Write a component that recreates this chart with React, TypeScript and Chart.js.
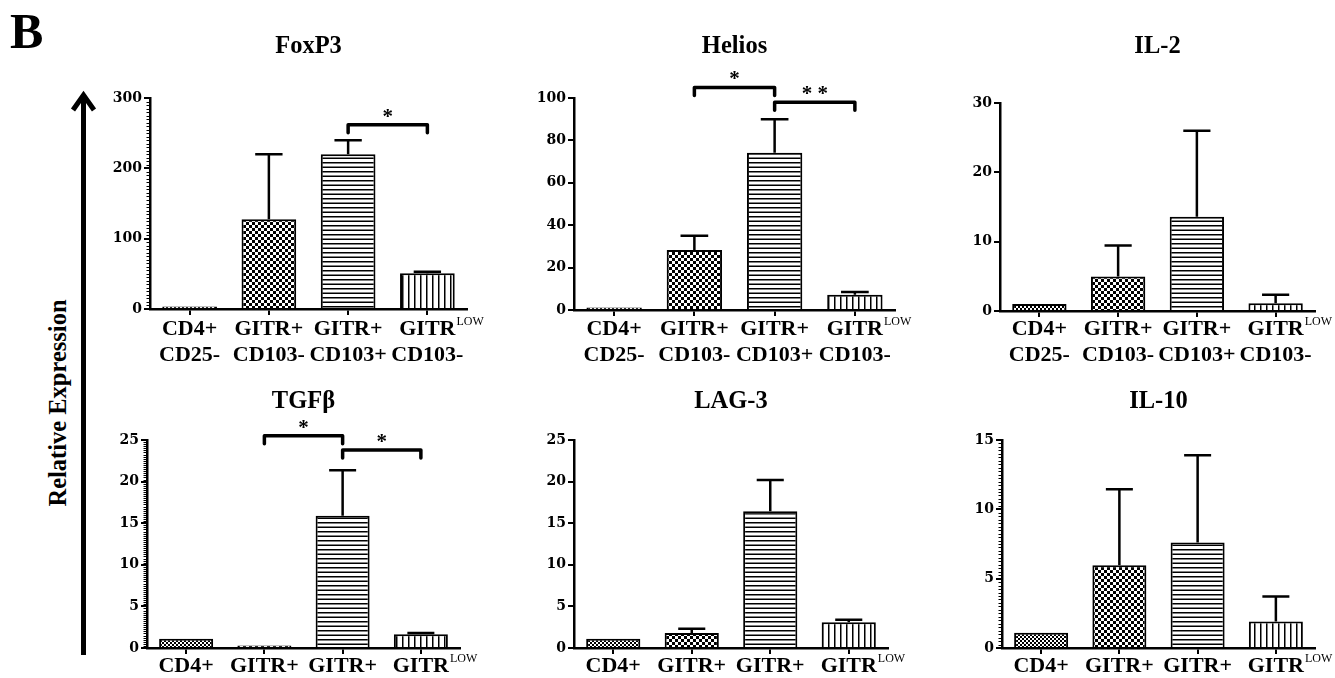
import React, { useEffect, useRef } from 'react';
import { Chart, registerables } from 'chart.js';

Chart.register(...registerables);

// ---------- data ----------
const CATEGORY_LINE1 = ['CD4+', 'GITR+', 'GITR+', 'GITR'];
const CATEGORY_SUP = ['', '', '', 'LOW'];
const CATEGORY_LINE2 = ['CD25-', 'CD103-', 'CD103+', 'CD103-'];
const BAR_PATTERNS = ['fine', 'checker', 'hlines', 'vlines'];

const FOXP3_MEAN = [1, 127.5, 220, 50.7];
const FOXP3_SEM = [0, 92.5, 20, 2.3];
const FOXP3_BRACKETS = [{ from: 2, to: 3, value: 262, label: '*' }];

const HELIOS_MEAN = [1, 28.3, 74.2, 7.2];
const HELIOS_SEM = [0, 6.7, 15.8, 1.3];
const HELIOS_BRACKETS = [
  { from: 1, to: 2, value: 105, label: '*' },
  { from: 2, to: 3, value: 98, label: '* *' },
];

const IL2_MEAN = [1, 4.96, 13.6, 1.1];
const IL2_SEM = [0, 4.5, 12.4, 1.25];

const TGFB_MEAN = [1.1, 0.15, 15.9, 1.65];
const TGFB_SEM = [0, 0, 5.45, 0.15];
const TGFB_BRACKETS = [
  { from: 1, to: 2, value: 25.5, label: '*' },
  { from: 2, to: 3, value: 23.8, label: '*' },
];

const LAG3_MEAN = [1.1, 1.8, 16.45, 3.1];
const LAG3_SEM = [0, 0.5, 3.75, 0.3];

const IL10_MEAN = [1.1, 5.97, 7.6, 1.92];
const IL10_SEM = [0, 5.48, 6.3, 1.79];

// y-axis ranges: [max, step, minorStep]
const FOXP3_AXIS = [300, 100, 5];
const HELIOS_AXIS = [100, 20, 0];
const IL2_AXIS = [30, 10, 0];
const TGFB_AXIS = [25, 5, 0.25];
const LAG3_AXIS = [25, 5, 0];
const IL10_AXIS = [15, 5, 0.25];

// ---------- layout (pixel positions of each plot area) ----------
const W = 1335;
const H = 678;
const Y_AXIS_W = 50;
const X_AXIS_H = 8;
const PANEL_BOXES = [
  { left: 150, right: 467, top: 98, bottom: 309, titleY: 53, labelY: 335 },
  { left: 574, right: 895, top: 98, bottom: 310, titleY: 53, labelY: 335 },
  { left: 1000, right: 1315, top: 103, bottom: 311, titleY: 53, labelY: 335 },
  { left: 147, right: 460, top: 440, bottom: 648, titleY: 408, labelY: 672 },
  { left: 574, right: 888, top: 440, bottom: 648, titleY: 408, labelY: 672 },
  { left: 1002, right: 1315, top: 440, bottom: 648, titleY: 408, labelY: 672 },
];

type Bracket = { from: number; to: number; value: number; label: string };
type Panel = {
  title: string;
  mean: number[];
  sem: number[];
  axis: number[];
  brackets: Bracket[];
  twoLine: boolean;
  box: (typeof PANEL_BOXES)[number];
};

const PANELS: Panel[] = [
  { title: 'FoxP3', mean: FOXP3_MEAN, sem: FOXP3_SEM, axis: FOXP3_AXIS, brackets: FOXP3_BRACKETS, twoLine: true, box: PANEL_BOXES[0] },
  { title: 'Helios', mean: HELIOS_MEAN, sem: HELIOS_SEM, axis: HELIOS_AXIS, brackets: HELIOS_BRACKETS, twoLine: true, box: PANEL_BOXES[1] },
  { title: 'IL-2', mean: IL2_MEAN, sem: IL2_SEM, axis: IL2_AXIS, brackets: [], twoLine: true, box: PANEL_BOXES[2] },
  { title: 'TGFβ', mean: TGFB_MEAN, sem: TGFB_SEM, axis: TGFB_AXIS, brackets: TGFB_BRACKETS, twoLine: false, box: PANEL_BOXES[3] },
  { title: 'LAG-3', mean: LAG3_MEAN, sem: LAG3_SEM, axis: LAG3_AXIS, brackets: [], twoLine: false, box: PANEL_BOXES[4] },
  { title: 'IL-10', mean: IL10_MEAN, sem: IL10_SEM, axis: IL10_AXIS, brackets: [], twoLine: false, box: PANEL_BOXES[5] },
];

const SERIF = '"Liberation Serif", "Times New Roman", serif';

function makePattern(kind: string): CanvasPattern | string {
  const c = document.createElement('canvas');
  if (kind === 'fine') { c.width = 4; c.height = 4; }
  else if (kind === 'checker') { c.width = 6; c.height = 6; }
  else if (kind === 'hlines') { c.width = 4; c.height = 9; }
  else { c.width = 6; c.height = 4; }
  const g = c.getContext('2d');
  if (!g) return '#fff';
  g.fillStyle = '#fff';
  g.fillRect(0, 0, c.width, c.height);
  g.fillStyle = '#000';
  if (kind === 'fine') {
    g.fillRect(0, 0, 2, 2);
    g.fillRect(2, 2, 2, 2);
  } else if (kind === 'checker') {
    g.fillRect(0, 0, 3, 3);
    g.fillRect(3, 3, 3, 3);
  } else if (kind === 'hlines') {
    g.fillRect(0, 0, 4, 1.5);
    g.fillRect(0, 4.5, 4, 1.5);
  } else {
    g.fillRect(0, 0, 1.5, 4);
  }
  return g.createPattern(c, 'repeat') || '#fff';
}

function decorPlugin(p: Panel) {
  return {
    id: 'decor',
    afterDraw(chart: any) {
      const ctx: CanvasRenderingContext2D = chart.ctx;
      const xs = chart.scales.x;
      const ys = chart.scales.y;
      const [max, , minor] = p.axis;
      ctx.save();
      ctx.strokeStyle = '#000';
      ctx.fillStyle = '#000';

      // minor ticks
      if (minor) {
        ctx.lineWidth = 1;
        const n = Math.round(max / minor);
        for (let k = 0; k <= n; k++) {
          const py = Math.round(ys.getPixelForValue(k * minor)) + 0.5;
          ctx.beginPath();
          ctx.moveTo(chart.chartArea.left - 3.5, py);
          ctx.lineTo(chart.chartArea.left, py);
          ctx.stroke();
        }
      }

      // error bars (upper only)
      const meta = chart.getDatasetMeta(0);
      ctx.lineWidth = 2.5;
      meta.data.forEach((bar: any, i: number) => {
        const s = p.sem[i];
        if (!s) return;
        const yTop = ys.getPixelForValue(p.mean[i] + s);
        const yBase = ys.getPixelForValue(p.mean[i]);
        const half = bar.width * 0.25;
        ctx.beginPath();
        ctx.moveTo(bar.x, yBase);
        ctx.lineTo(bar.x, yTop);
        ctx.moveTo(bar.x - half, yTop);
        ctx.lineTo(bar.x + half, yTop);
        ctx.stroke();
      });

      // significance brackets
      ctx.lineWidth = 3.5;
      ctx.lineJoin = 'round';
      ctx.lineCap = 'round';
      p.brackets.forEach((b) => {
        const x1 = xs.getPixelForValue(b.from);
        const x2 = xs.getPixelForValue(b.to);
        const yb = ys.getPixelForValue(b.value);
        ctx.beginPath();
        ctx.moveTo(x1, yb + 8);
        ctx.lineTo(x1, yb);
        ctx.lineTo(x2, yb);
        ctx.lineTo(x2, yb + 8);
        ctx.stroke();
        ctx.font = `bold 21px ${SERIF}`;
        ctx.textAlign = 'center';
        ctx.textBaseline = 'alphabetic';
        ctx.fillText(b.label, (x1 + x2) / 2, yb - 2);
      });

      // category labels
      const mainFont = `bold 22px ${SERIF}`;
      const supFont = `12px ${SERIF}`;
      ctx.textBaseline = 'alphabetic';
      CATEGORY_LINE1.forEach((t, i) => {
        const cx = xs.getPixelForValue(i);
        ctx.font = mainFont;
        ctx.textAlign = 'center';
        ctx.fillText(t, cx, p.box.labelY);
        if (CATEGORY_SUP[i]) {
          const w = ctx.measureText(t).width;
          ctx.font = supFont;
          ctx.textAlign = 'left';
          ctx.fillText(CATEGORY_SUP[i], cx + w / 2 + 1, p.box.labelY - 10);
        }
        if (p.twoLine) {
          ctx.font = mainFont;
          ctx.textAlign = 'center';
          ctx.fillText(CATEGORY_LINE2[i], cx, p.box.labelY + 26);
        }
      });

      // title
      ctx.font = `bold 24.5px ${SERIF}`;
      ctx.textAlign = 'center';
      ctx.fillText(p.title, (chart.chartArea.left + chart.chartArea.right) / 2, p.box.titleY);
      ctx.restore();
    },
  };
}

function PanelChart({ panel }: { panel: Panel }) {
  const ref = useRef<HTMLCanvasElement>(null);
  useEffect(() => {
    if (!ref.current) return;
    const [max, step] = panel.axis;
    const b = panel.box;
    const chart = new Chart(ref.current, {
      type: 'bar',
      data: {
        labels: CATEGORY_LINE1.map((t, i) => t + CATEGORY_SUP[i]),
        datasets: [
          {
            data: panel.mean,
            backgroundColor: BAR_PATTERNS.map((k) => makePattern(k)) as any,
            borderColor: '#000',
            borderWidth: 2,
            barPercentage: 0.69,
            categoryPercentage: 1,
            minBarLength: 2.5,
          },
        ],
      },
      options: {
        responsive: false,
        animation: false,
        events: [],
        layout: {
          padding: {
            left: b.left - Y_AXIS_W,
            right: W - b.right,
            top: b.top,
            bottom: H - b.bottom - X_AXIS_H,
          },
        },
        plugins: {
          legend: { display: false },
          tooltip: { enabled: false },
          title: { display: false },
        },
        scales: {
          x: {
            type: 'category',
            offset: true,
            grid: {
              display: true,
              drawOnChartArea: false,
              drawTicks: true,
              tickLength: 6,
              offset: false,
              color: '#000',
              lineWidth: 2,
            },
            border: { display: true, color: '#000', width: 2.5 },
            ticks: { display: false },
            afterFit: (s: any) => {
              s.height = X_AXIS_H;
            },
          },
          y: {
            min: 0,
            max,
            ticks: {
              stepSize: step,
              color: '#000',
              padding: 2,
              font: { family: '"DejaVu Serif", serif', weight: 'bold', size: 14 },
            },
            grid: {
              drawOnChartArea: false,
              drawTicks: true,
              tickLength: 6,
              color: '#000',
              lineWidth: 2,
            },
            border: { display: true, color: '#000', width: 2.5 },
            afterFit: (s: any) => {
              s.width = Y_AXIS_W;
            },
          },
        },
      } as any,
      plugins: [decorPlugin(panel)],
    });
    return () => chart.destroy();
  }, [panel]);
  return (
    <canvas
      ref={ref}
      width={W}
      height={H}
      style={{ position: 'absolute', left: 0, top: 0, width: W, height: H }}
    />
  );
}

export default function App() {
  return (
    <div style={{ position: 'absolute', left: 0, top: 0, width: W, height: H, background: '#fff', overflow: 'hidden' }}>
      <svg width={W} height={H} style={{ position: 'absolute', left: 0, top: 0 }}>
        <text x={10} y={48} fontFamily={SERIF} fontWeight="bold" fontSize={50} fill="#000">B</text>
        <line x1={83.5} y1={97} x2={83.5} y2={655} stroke="#000" strokeWidth={5} />
        <polyline points="73,110 83.5,95 94,110" fill="none" stroke="#000" strokeWidth={5} strokeLinejoin="miter" />
        <text
          transform="translate(66,403) rotate(-90)"
          textAnchor="middle"
          fontFamily={SERIF}
          fontWeight="bold"
          fontSize={24.5}
          fill="#000"
        >
          Relative Expression
        </text>
      </svg>
      {PANELS.map((p) => (
        <PanelChart key={p.title} panel={p} />
      ))}
    </div>
  );
}
